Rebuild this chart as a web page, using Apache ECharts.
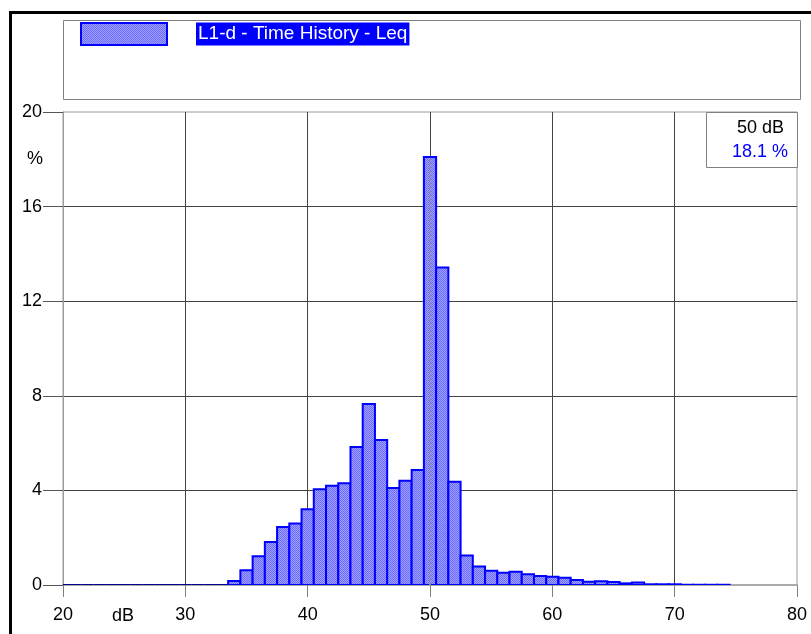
<!DOCTYPE html>
<html>
<head>
<meta charset="utf-8">
<script src="https://cdn.jsdelivr.net/npm/echarts@6/dist/echarts.min.js"></script>
<style>
html,body{margin:0;padding:0;background:#fff;}
#chart{width:811px;height:634px;}
</style>
</head>
<body>
<div id="chart"></div>
<script>
// ---- data ----
const seriesName = 'L1-d - Time History - Leq';
const binDb = [20,21,22,23,24,25,26,27,28,29,30,31,32,33,34,35,36,37,38,39,40,41,42,43,44,45,46,47,48,49,50,51,52,53,54,55,56,57,58,59,60,61,62,63,64,65,66,67,68,69,70,71,72,73,74];
const binPct = [0,0,0,0,0,0,0,0,0,0,0,0,0,0,0.17,0.62,1.22,1.82,2.45,2.6,3.2,4.05,4.2,4.3,5.84,7.65,6.13,4.1,4.41,4.86,18.1,13.43,4.37,1.25,0.78,0.6,0.52,0.56,0.45,0.38,0.35,0.31,0.21,0.14,0.16,0.13,0.07,0.11,0.03,0.03,0.03,0.01,0.01,0.01,0.01];
const xTicks = [20,30,40,50,60,70,80];
const yTicks = [0,4,8,12,16,20];
const cursorDb = 50;
const cursorPct = 18.1;
const xUnit = 'dB';
const yUnit = '%';

// ---- styles ----
const FONT = '"Liberation Sans", Arial, sans-serif';
function makePattern(){
  const c = document.createElement('canvas');
  c.width = 2; c.height = 2;
  const g = c.getContext('2d');
  g.fillStyle = '#a0a0ff'; g.fillRect(0,0,2,2);
  g.fillStyle = '#6a6aff'; g.fillRect(0,0,1,1); g.fillRect(1,1,1,1);
  return c;
}
const pat = {image: makePattern(), repeat: 'repeat'};

const chart = echarts.init(document.getElementById('chart'), null, {renderer:'canvas'});
const data = binDb.map((d,i)=>[d, binPct[i]]);

chart.setOption({
  animation: false,
  backgroundColor: '#fff',
  grid: {left: 63, right: 14, top: 112, bottom: 49, show: true, borderColor: '#9a9a9a', borderWidth: 1, containLabel: false},
  legend: {
    left: 80, top: 22, itemWidth: 86, itemHeight: 22, padding: 0,
    data: [{name: seriesName, icon: 'rect', itemStyle: {color: pat, borderColor: '#0000ff', borderWidth: 2}}],
    formatter: n => '{g| }{t|' + n + '}',
    textStyle: {
      rich: {
        g: {width: 24},
        t: {backgroundColor: '#0000ff', color: '#fff', fontFamily: FONT, fontSize: 19, padding: [2,2,2,2], lineHeight: 20}
      }
    }
  },
  xAxis: {
    type: 'value', min: 20, max: 80, interval: 10,
    axisLine: {show: true, onZero: false, lineStyle: {color: '#aaaaaa', width: 2}},
    axisTick: {show: true, length: 12, lineStyle: {color: '#808080'}},
    axisLabel: {color: '#000', fontFamily: FONT, fontSize: 18, margin: 21,
      customValues: xTicks},
    splitLine: {show: true, showMinLine: false, showMaxLine: false, lineStyle: {color: '#444', width: 1}}
  },
  yAxis: {
    type: 'value', min: 0, max: 20, interval: 4,
    axisLine: {show: true, lineStyle: {color: '#9a9a9a', width: 1}},
    axisTick: {show: true, length: 20, lineStyle: {color: '#555'}},
    axisLabel: {color: '#000', fontFamily: FONT, fontSize: 18, margin: 21},
    splitLine: {show: true, showMinLine: false, showMaxLine: false, lineStyle: {color: '#444', width: 1}}
  },
  graphic: [
    {type: 'polyline', z: 100, shape: {points: [[10.5, 640],[10.5, 12.5],[820, 12.5]]}, style: {stroke: '#000', lineWidth: 3, fill: null}},
    {type: 'rect', z: -10, shape: {x: 63.5, y: 20.5, width: 737, height: 79}, style: {stroke: '#808080', lineWidth: 1, fill: '#fff'}},
    {type: 'rect', z: 100, shape: {x: 706.5, y: 112.5, width: 91, height: 55}, style: {stroke: '#808080', lineWidth: 1, fill: '#fff'}},
    {type: 'text', z: 101, style: {text: cursorDb + ' dB', x: 784, y: 128, align: 'right', verticalAlign: 'middle', fill: '#000', font: '18px ' + FONT}},
    {type: 'text', z: 101, style: {text: cursorPct + ' %', x: 788, y: 152, align: 'right', verticalAlign: 'middle', fill: '#0000ff', font: '18px ' + FONT}},
    {type: 'text', z: 101, style: {text: yUnit, x: 35, y: 159, align: 'center', verticalAlign: 'middle', fill: '#000', font: '18px ' + FONT}},
    {type: 'text', z: 101, style: {text: xUnit, x: 123, y: 616, align: 'center', verticalAlign: 'middle', fill: '#000', font: '18px ' + FONT}}
  ],
  series: [
    {
      name: seriesName,
      type: 'custom',
      data: data,
      encode: {x: 0, y: 1},
      clip: true,
      itemStyle: {color: pat, borderColor: '#0000ff'},
      renderItem: function(params, api){
        const x = api.value(0), y = api.value(1);
        const p0 = api.coord([x - 0.5, 0]);
        const p1 = api.coord([x + 0.5, y]);
        return {
          type: 'rect',
          shape: {x: p0[0], y: p1[1], width: p1[0] - p0[0], height: p0[1] - p1[1]},
          style: {fill: pat, stroke: y > 0 ? '#0000ff' : '#00008b', lineWidth: 2}
        };
      },
      z: 2
    },
    {
      name: 'cursor',
      type: 'line',
      data: [[cursorDb, 0],[cursorDb, cursorPct]],
      symbol: 'none',
      lineStyle: {color: '#8c8c8c', width: 2, type: [2,2]},
      z: 5,
      silent: true
    }
  ]
});
</script>
</body>
</html>
